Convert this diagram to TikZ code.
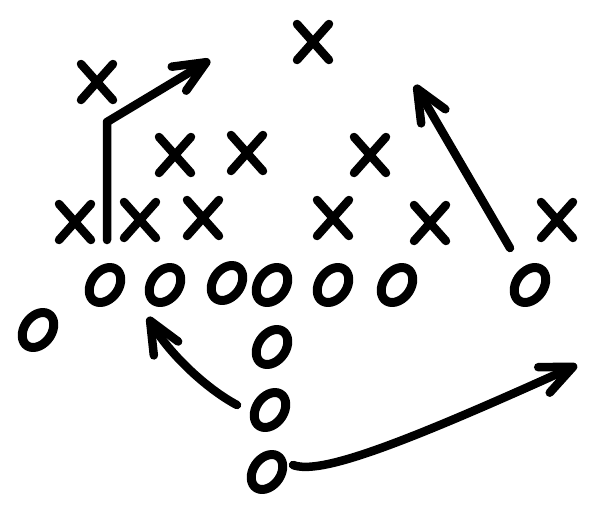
\documentclass[tikz,border=0pt]{standalone}
\usetikzlibrary{arrows.meta}
\begin{document}
\begin{tikzpicture}[x=1pt,y=-1pt,
  pen/.style={line width=8.5pt,line cap=round,line join=round},
  tipped/.style={pen,-{Straight Barb[length=32pt,width=28pt,round]}}]
\useasboundingbox (0,0) rectangle (600,509);
% X players
\foreach \n/\p in {xa/{97,82},xb/{175,155},xc/{247,153},xd/{75,222},xe/{140,220},
  xf/{203,218},xg/{313,42},xh/{370,155},xi/{333,218},xj/{430,223},xk/{557,220}}{
  \coordinate (\n) at (\p);
  \draw[pen,shift={(\n)}] (-16,-18) -- (16,18) (16,-18) -- (-16,18);
}
% O players
\foreach \n/\p in {oa/{38,330},ob/{105,285},oc/{165,285},od/{227,283},oe/{272,285},
  of/{333,285},og/{397,285},oh/{530,285},oi/{272,347},oj/{270,410},ok/{267,472}}{
  \coordinate (\n) at (\p);
  \draw[pen,line width=9pt,shift={(\n)},xslant=0.28] (0,0) ellipse [x radius=15, y radius=17.5];
}
% routes
\coordinate (r1s) at (107,240);
\coordinate (r1b) at (107,122);
\coordinate (r1t) at (210,60);
\coordinate (r2s) at (510,248);
\coordinate (r2t) at (415,85);
\coordinate (r3s) at (237,405);
\coordinate (r3t) at (148,317);
\coordinate (r4s) at (293,465);
\coordinate (r4t) at (577,365);
\draw[tipped] (r1s) -- (r1b) -- (r1t);
\draw[tipped] (r2s) -- (r2t);
\draw[tipped] (r3s) .. controls (205,388) and (168,352) .. (r3t);
\draw[tipped] (r4s) .. controls (320,475) and (400,445) .. (r4t);
\end{tikzpicture}
\end{document}
